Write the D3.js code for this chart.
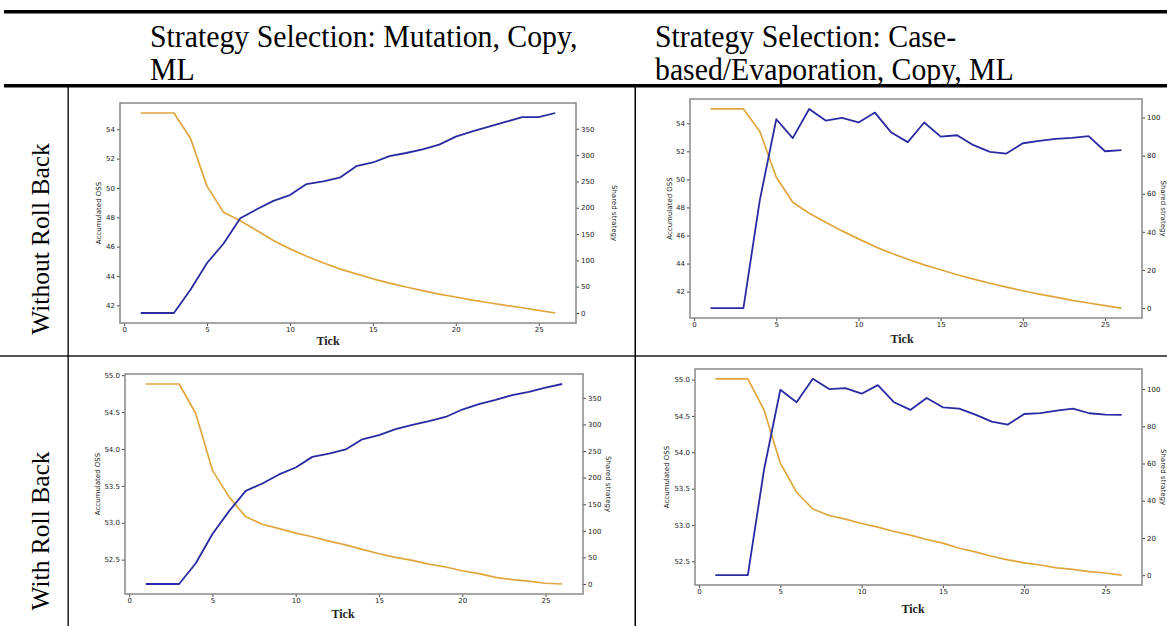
<!DOCTYPE html>
<html>
<head>
<meta charset="utf-8">
<script src="https://cdn.jsdelivr.net/npm/d3@7/dist/d3.min.js"></script>
<style>
  html, body { margin: 0; padding: 0; background: #fff; }
  svg { display: block; }
</style>
</head>
<body>
<svg id="chart" width="1167" height="626"></svg>
<script>
// ---------------- DATA ----------------
const ticks = [1,2,3,4,5,6,7,8,9,10,11,12,13,14,15,16,17,18,19,20,21,22,23,24,25,26];

const colHeaders = [
  ["Strategy Selection: Mutation, Copy,", "ML"],
  ["Strategy Selection: Case-", "based/Evaporation, Copy, ML"]
];
const rowHeaders = ["Without Roll Back", "With Roll Back"];

// Without roll back, Mutation/Copy/ML
const p1Oss = [55.11,55.11,55.11,53.39,50.11,48.34,47.77,47.10,46.42,45.85,45.35,44.90,44.49,44.15,43.81,43.52,43.25,43.00,42.77,42.57,42.36,42.18,42.00,41.84,41.66,41.48];
const p1Shared = [0,0,0,44,95,132,180,197,213,224,245,250,257,279,286,298,304,311,320,335,345,354,363,372,372,380];
// Without roll back, Case-based/Evaporation
const p2Oss = [55.02,55.02,55.02,53.41,50.15,48.37,47.59,46.95,46.33,45.76,45.21,44.74,44.31,43.91,43.56,43.20,42.89,42.60,42.32,42.06,41.82,41.61,41.38,41.19,41.00,40.83];
const p2Shared = [0,0,0,56.8,99.1,89.2,104.5,98.4,99.8,97.4,102.6,92.1,87.1,97.4,90.0,90.7,85.5,82.0,81.1,86.5,87.8,88.8,89.3,90.2,82.3,82.9];
// With roll back, Mutation/Copy/ML
const p3Oss = [54.88,54.88,54.88,54.48,53.71,53.35,53.08,52.98,52.92,52.86,52.81,52.75,52.70,52.64,52.58,52.53,52.49,52.44,52.40,52.35,52.31,52.26,52.23,52.21,52.18,52.17];
const p3Shared = [0,0,0,39,94,137,175,189,206,219,239,245,253,272,280,291,299,306,314,328,338,346,355,361,369,376];
// With roll back, Case-based/Evaporation
const p4Oss = [55.01,55.01,55.01,54.58,53.85,53.45,53.22,53.13,53.08,53.02,52.97,52.91,52.86,52.80,52.75,52.68,52.63,52.57,52.52,52.48,52.45,52.41,52.39,52.36,52.34,52.31];
const p4Shared = [0,0,0,56.8,99.6,92.9,105.5,100,100.5,97.5,102.1,92.9,88.8,95.2,90.2,89.5,86.3,82.5,80.9,86.6,87.1,88.4,89.5,87.0,86.3,86.1];

// tick labels
const xTickValues = [0,5,10,15,20,25];
const ossTicksA = [42,44,46,48,50,52,54];
const ossTicksB = [52.5,53.0,53.5,54.0,54.5,55.0];
const sharedTicksA = [0,50,100,150,200,250,300,350];
const sharedTicksB = [0,20,40,60,80,100];

const xLabel = "Tick";
const leftLabel = "Accumulated OSS";
const rightLabel = "Shared strategy";

// ---------------- LAYOUT ----------------
const ORANGE = "#e0a63e";
const BLUE = "#2a2aa2";
const svg = d3.select("#chart");

// table rules
svg.append("rect").attr("x", 4).attr("y", 10).attr("width", 1163).attr("height", 3.5).attr("fill", "#000");
svg.append("rect").attr("x", 4).attr("y", 84).attr("width", 1163).attr("height", 3.5).attr("fill", "#000");
svg.append("rect").attr("x", 0).attr("y", 355).attr("width", 1167).attr("height", 2).attr("fill", "#555");
svg.append("rect").attr("x", 67.5).attr("y", 87).attr("width", 1.3).attr("height", 539).attr("fill", "#000");
svg.append("rect").attr("x", 634.5).attr("y", 87).attr("width", 1.5).attr("height", 539).attr("fill", "#000");

// headers (slightly tall, as in the source document)
const headerX = [150, 655];
colHeaders.forEach((lines, i) => {
  lines.forEach((t, j) => {
    const by = 47 + j * 33;
    svg.append("text")
      .attr("transform", `translate(${headerX[i]},${by}) scale(1.01,1.1)`)
      .attr("font-family", "'Liberation Serif', 'Times New Roman', serif")
      .attr("font-size", 29.5)
      .attr("fill", "#000")
      .text(t);
  });
});
const rowCenters = [239, 531];
rowHeaders.forEach((t, i) => {
  svg.append("text")
    .attr("transform", `translate(49,${rowCenters[i]}) rotate(-90)`)
    .attr("text-anchor", "middle")
    .attr("font-family", "'Liberation Serif', 'Times New Roman', serif")
    .attr("font-size", 25.5)
    .attr("fill", "#000")
    .text(t);
});

// panels
const panels = [
  {oss: p1Oss, shared: p1Shared, oT: ossTicksA, sT: sharedTicksA, fmt: d3.format("d"),
   box: {l: 120, r: 576, t: 103, b: 323}, llx: 101, rlx: 612, tickX: 328, tickY: 345},
  {oss: p2Oss, shared: p2Shared, oT: ossTicksA, sT: sharedTicksB, fmt: d3.format("d"),
   box: {l: 690, r: 1142, t: 99, b: 318}, llx: 672, rlx: 1161, tickX: 902, tickY: 343},
  {oss: p3Oss, shared: p3Shared, oT: ossTicksB, sT: sharedTicksA, fmt: d3.format(".1f"),
   box: {l: 125, r: 583, t: 374, b: 594}, llx: 100, rlx: 606, tickX: 343, tickY: 618},
  {oss: p4Oss, shared: p4Shared, oT: ossTicksB, sT: sharedTicksB, fmt: d3.format(".1f"),
   box: {l: 695, r: 1142, t: 369, b: 585}, llx: 669, rlx: 1161, tickX: 913, tickY: 613}
];

function padded(arr) {
  const e = d3.extent(arr);
  const p = (e[1] - e[0]) * 0.05;
  return [e[0] - p, e[1] + p];
}

function styleAxis(g) {
  g.select(".domain").remove();
  g.selectAll(".tick line").attr("stroke", "#333").attr("stroke-width", 0.9);
  g.selectAll(".tick text")
    .attr("font-family", "'DejaVu Sans', sans-serif")
    .attr("font-size", 7)
    .attr("fill", "#222");
}

panels.forEach(p => {
  const b = p.box;
  const x = d3.scaleLinear().domain(padded(ticks)).range([b.l, b.r]);
  const yL = d3.scaleLinear().domain(padded(p.oss)).range([b.b, b.t]);
  const yR = d3.scaleLinear().domain(padded(p.shared)).range([b.b, b.t]);
  const g = svg.append("g");

  g.append("g").attr("transform", `translate(0,${b.b})`)
    .call(d3.axisBottom(x).tickValues(xTickValues).tickSize(3).tickPadding(1.5).tickFormat(d3.format("d")))
    .call(styleAxis);
  g.append("g").attr("transform", `translate(${b.l},0)`)
    .call(d3.axisLeft(yL).tickValues(p.oT).tickSize(3).tickPadding(2).tickFormat(p.fmt))
    .call(styleAxis);
  g.append("g").attr("transform", `translate(${b.r},0)`)
    .call(d3.axisRight(yR).tickValues(p.sT).tickSize(3).tickPadding(2).tickFormat(d3.format("d")))
    .call(styleAxis);

  const lineL = d3.line().x((d, i) => x(ticks[i])).y(d => yL(d));
  const lineR = d3.line().x((d, i) => x(ticks[i])).y(d => yR(d));
  g.append("path").datum(p.oss).attr("d", lineL)
    .attr("fill", "none").attr("stroke", ORANGE).attr("stroke-width", 1.7).attr("stroke-linejoin", "round");
  g.append("path").datum(p.shared).attr("d", lineR)
    .attr("fill", "none").attr("stroke", BLUE).attr("stroke-width", 1.8).attr("stroke-linejoin", "round");

  g.append("rect").attr("x", b.l).attr("y", b.t).attr("width", b.r - b.l).attr("height", b.b - b.t)
    .attr("fill", "none").attr("stroke", "#888").attr("stroke-width", 1.5);

  g.append("text")
    .attr("transform", `translate(${p.llx},${(b.t + b.b) / 2}) rotate(-90)`)
    .attr("text-anchor", "middle")
    .attr("font-family", "'DejaVu Sans', sans-serif").attr("font-size", 7).attr("fill", "#222")
    .text(leftLabel);
  g.append("text")
    .attr("transform", `translate(${p.rlx},${(b.t + b.b) / 2}) rotate(90)`)
    .attr("text-anchor", "middle")
    .attr("font-family", "'DejaVu Sans', sans-serif").attr("font-size", 7).attr("fill", "#222")
    .text(rightLabel);
  g.append("text")
    .attr("x", p.tickX).attr("y", p.tickY)
    .attr("text-anchor", "middle")
    .attr("font-family", "'Liberation Serif', 'Times New Roman', serif")
    .attr("font-size", 12).attr("font-weight", "bold").attr("fill", "#222")
    .text(xLabel);
});
</script>
</body>
</html>
